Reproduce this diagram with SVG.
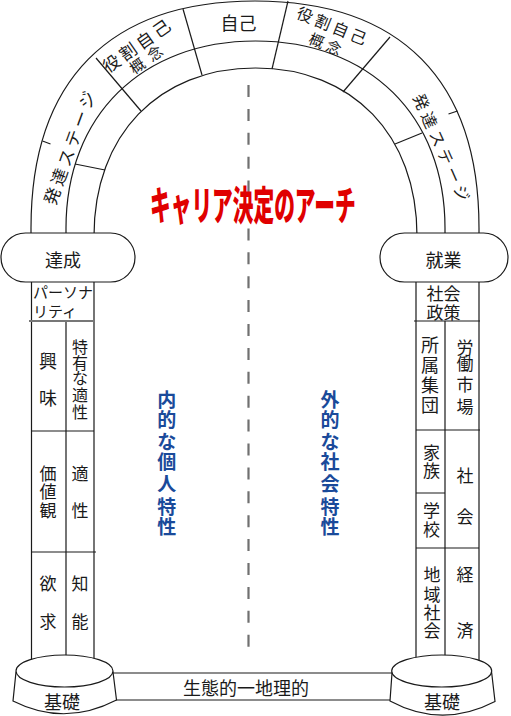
<svg xmlns="http://www.w3.org/2000/svg" width="511" height="716" viewBox="0 0 511 716">
<style>
.ln{fill:none;stroke:#1a1a1a;stroke-width:1.2}
.wf{fill:#fff;stroke:#1a1a1a;stroke-width:1.2}
.t{font-family:"Noto Sans CJK JP","Noto Sans CJK SC",sans-serif;fill:#1a1a1a;text-anchor:middle}
.ts{font-family:"Noto Sans CJK JP","Noto Sans CJK SC",sans-serif;fill:#1a1a1a;text-anchor:start}
.s15{font-size:15px}.s16{font-size:16px}.s17{font-size:17px}.s18{font-size:18px}
.blue{font-family:"Noto Sans CJK JP","Noto Sans CJK SC",sans-serif;font-size:19px;font-weight:bold;fill:#1a4a9a;text-anchor:middle}
.dash{fill:none;stroke:#707070;stroke-width:2.2;stroke-dasharray:12 11.9}
</style>
<rect width="511" height="716" fill="#fff"/>

<g id="connectors">
  <line class="dash" x1="248.5" y1="85" x2="248.5" y2="647"/>
</g>

<g id="arch" class="ln">
  <path d="M31,240 L31,228 C31,80.5 109.4,1 255,1 C400.6,1 479,80.5 479,228 L479,240"/>
  <path d="M66,240 L66,228 C66,115.8 141.8,41 255.5,41 C369.2,41 445,115.8 445,228 L445,240"/>
  <path d="M94,240 L94,236 C94,135.2 158.6,68 255.5,68 C352.4,68 417,135.2 417,236 L417,240"/>
  <path d="M183,9 L202,75"/>
  <path d="M288,1 L272,69"/>
  <path d="M96,58 L141,111"/>
  <path d="M390,37 L343,92"/>
  <path d="M42.5,141 L50.5,144"/>
  <path d="M457.5,111 L448.5,114"/>
  <path d="M75,164 L105,170"/>
  <path d="M422,133 L395,144"/>
</g>

<g id="arch-labels">
  <text class="t s18" x="238.5" y="30">自己</text>
  <g transform="translate(136.7,46.2) rotate(-35)">
    <text class="t s17"><tspan x="-30.5" y="6">役</tspan><tspan x="-10.2" y="6">割</tspan><tspan x="10.2" y="6">自</tspan><tspan x="30.5" y="6">己</tspan></text>
    <text class="t s15"><tspan x="-10.8" y="22">概</tspan><tspan x="10.8" y="22">念</tspan></text>
  </g>
  <g transform="translate(331.7,25.8) rotate(22)">
    <text class="t s16"><tspan x="-28.8" y="6">役</tspan><tspan x="-9.6" y="6">割</tspan><tspan x="9.6" y="6">自</tspan><tspan x="28.8" y="6">己</tspan></text>
    <text class="t s15"><tspan x="-8.6" y="25">概</tspan><tspan x="10" y="25">念</tspan></text>
  </g>
  <g transform="translate(70,148) rotate(-70)">
    <text class="t s17"><tspan x="-51.25" y="6">発</tspan><tspan x="-30.75" y="6">達</tspan><tspan x="-10.25" y="6">ス</tspan><tspan x="10.25" y="6">テ</tspan><tspan x="30.75" y="6">ー</tspan><tspan x="51.25" y="6">ジ</tspan></text>
  </g>
  <g transform="translate(441.5,147.5) rotate(66)">
    <text class="t s16"><tspan x="-50" y="6">発</tspan><tspan x="-30" y="6">達</tspan><tspan x="-10" y="6">ス</tspan><tspan x="10" y="6">テ</tspan><tspan x="30" y="6">ー</tspan><tspan x="50" y="6">ジ</tspan></text>
  </g>
</g>

<g id="title">
  <text transform="translate(150,220) scale(0.5175,1)" x="0" y="0" font-family="'Noto Sans CJK JP','Noto Sans CJK SC',sans-serif" font-size="40" font-weight="900" fill="#e00000">キャリア決定のアーチ</text>
</g>

<g id="pillar-left">
  <path class="ln" d="M31.5,282 V668 M94,282 V668 M66,321 V668 M31,431 H94 M31,552 H96"/>
  <line x1="29" y1="321" x2="94" y2="321" stroke="#777" stroke-width="2"/>
  <text class="ts s15" x="33" y="298">パーソナ</text>
  <text class="ts s15" x="33" y="317">リティ</text>
  <text class="t s18"><tspan x="48" y="368">興</tspan><tspan x="48" y="405">味</tspan></text>
  <text class="t s16"><tspan x="80" y="353">特</tspan><tspan x="80" y="369">有</tspan><tspan x="80" y="384">な</tspan><tspan x="80" y="401">適</tspan><tspan x="80" y="418">性</tspan></text>
  <text class="t s17"><tspan x="48" y="480">価</tspan><tspan x="48" y="498">値</tspan><tspan x="48" y="517">観</tspan></text>
  <text class="t s17"><tspan x="80" y="480">適</tspan><tspan x="80" y="517">性</tspan></text>
  <text class="t s17"><tspan x="48" y="590">欲</tspan><tspan x="48" y="628">求</tspan></text>
  <text class="t s17"><tspan x="80" y="590">知</tspan><tspan x="80" y="628">能</tspan></text>
</g>

<g id="pillar-right">
  <path class="ln" d="M416,282 V668 M479,282 V668 M445,321 V668 M414,321 H480 M416,430 H480 M416,493 H445 M416,548 H479"/>
  <text class="t s17" x="443.5" y="299.5">社会</text>
  <text class="t s17" x="443.5" y="318.5">政策</text>
  <text class="t s18"><tspan x="430" y="352">所</tspan><tspan x="430" y="372">属</tspan><tspan x="430" y="392">集</tspan><tspan x="430" y="412">団</tspan></text>
  <text class="t s17"><tspan x="465" y="354">労</tspan><tspan x="465" y="370">働</tspan><tspan x="465" y="391">市</tspan><tspan x="465" y="412.5">場</tspan></text>
  <text class="t s17"><tspan x="431.5" y="459">家</tspan><tspan x="431.5" y="477">族</tspan></text>
  <text class="t s17"><tspan x="431.5" y="517">学</tspan><tspan x="431.5" y="536">校</tspan></text>
  <text class="t s17"><tspan x="465" y="481.5">社</tspan><tspan x="465" y="523">会</tspan></text>
  <text class="t s17"><tspan x="432" y="581">地</tspan><tspan x="432" y="601">域</tspan><tspan x="432" y="619">社</tspan><tspan x="432" y="637">会</tspan></text>
  <text class="t s17"><tspan x="465" y="581">経</tspan><tspan x="465" y="637">済</tspan></text>
</g>

<g id="cap-left">
  <rect class="wf" x="1" y="233" width="134" height="49" rx="24.5"/>
  <text class="t s18" x="63" y="266.5">達成</text>
</g>
<g id="cap-right">
  <rect class="wf" x="380" y="233" width="128" height="49" rx="24.5"/>
  <text class="t s18" x="443.5" y="267">就業</text>
</g>

<g id="band">
  <path class="ln" d="M113,673 H392 M116,700 H390"/>
  <text class="t s18" x="246" y="694.5">生態的一地理的</text>
</g>

<g id="base-left">
  <path class="wf" d="M16,672 L13,701 Q64.5,727 116.5,700 L113,672 Z"/>
  <ellipse class="wf" cx="64.5" cy="671" rx="48.5" ry="16"/>
  <text class="t s18" x="62" y="709">基礎</text>
</g>
<g id="base-right">
  <path class="wf" d="M392,673 L390,701 Q442,729 495,701.5 L491.7,673 Z"/>
  <ellipse class="wf" cx="441.7" cy="671" rx="50" ry="16"/>
  <text class="t s18" x="442" y="709">基礎</text>
</g>

<g id="inner-labels">
  <text class="blue"><tspan x="166.7" y="407">内</tspan><tspan x="166.7" y="427">的</tspan><tspan x="166.7" y="448.5">な</tspan><tspan x="166.7" y="468.5">個</tspan><tspan x="166.7" y="490.5">人</tspan><tspan x="166.7" y="513.5">特</tspan><tspan x="166.7" y="533.5">性</tspan></text>
  <text class="blue"><tspan x="330" y="407">外</tspan><tspan x="330" y="427">的</tspan><tspan x="330" y="448.5">な</tspan><tspan x="330" y="468.5">社</tspan><tspan x="330" y="490.5">会</tspan><tspan x="330" y="513.5">特</tspan><tspan x="330" y="533.5">性</tspan></text>
</g>
</svg>
